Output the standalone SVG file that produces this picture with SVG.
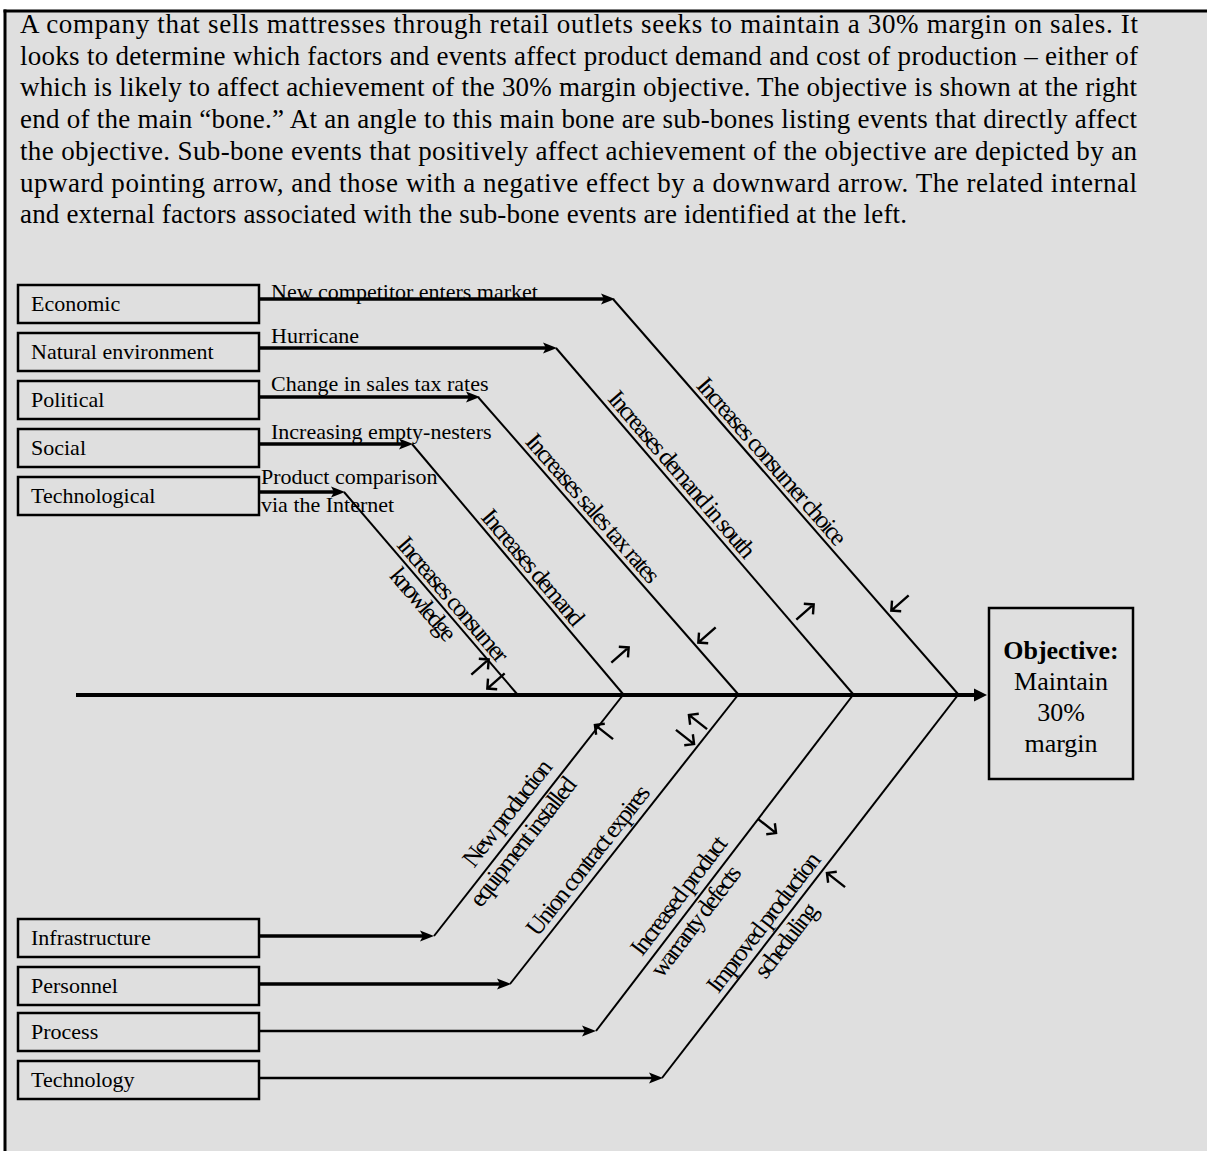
<svg xmlns="http://www.w3.org/2000/svg" xmlns:xlink="http://www.w3.org/1999/xlink" width="1207" height="1151" viewBox="0 0 1207 1151">
  <style>
    .t { font-family: "Liberation Serif", "Times New Roman", Times, serif; fill: #000; }
    .para { font-size: 27px; }
    .lbl { font-size: 22px; }
    .diag { font-size: 25px; }
    .obj { font-size: 26px; }
    .box { fill: none; stroke: #000; stroke-width: 2.5; }
    .bone { fill: none; stroke: #000; stroke-width: 2; }
    .feed { fill: none; stroke: #000; stroke-width: 3.5; marker-end: url(#ah); }
    .feed-thin { fill: none; stroke: #000; stroke-width: 2.6; marker-end: url(#ah); }
    .sym { fill: none; stroke: #000; stroke-width: 2.4; }
  </style>
  <defs>
    <marker id="ah" markerUnits="userSpaceOnUse" markerWidth="16" markerHeight="14" refX="6" refY="7" orient="auto">
      <path d="M0,1.5 L14,7 L0,12.5 L3,7 z" fill="#000"/>
    </marker>
    <marker id="ahMain" markerUnits="userSpaceOnUse" markerWidth="16" markerHeight="16" refX="6" refY="8" orient="auto">
      <path d="M0,1.5 L13,8 L0,14.5 z" fill="#000"/>
    </marker>
    <!-- upright open arrow, rotated per use -->
    <path id="arr" class="sym" d="M0,11.5 V-11.5 M-7,-4.5 L0,-11.5 L7,-4.5"/>
  </defs>

  <!-- page -->
  <rect x="0" y="0" width="1207" height="1151" fill="#fff"/>
  <rect x="5" y="11" width="1202" height="1140" fill="#dfdfdf"/>
  <line x1="3.5" y1="11" x2="1207" y2="11" stroke="#000" stroke-width="3"/>
  <line x1="5" y1="9.5" x2="5" y2="1151" stroke="#000" stroke-width="3"/>

  <!-- description paragraph -->
  <g id="description">
    <text class="t para" x="20" y="33" textLength="1118" lengthAdjust="spacing">A company that sells mattresses through retail outlets seeks to maintain a 30% margin on sales.  It</text>
    <text class="t para" x="20" y="64.7" textLength="1118" lengthAdjust="spacing">looks to determine which factors and events affect product demand and cost of production – either of</text>
    <text class="t para" x="20" y="96.4" textLength="1117" lengthAdjust="spacing">which is likely to affect achievement of the 30% margin objective.  The objective is shown at the right</text>
    <text class="t para" x="20" y="128.1" textLength="1117" lengthAdjust="spacing">end of the main “bone.”  At an angle to this main bone are sub-bones listing events that directly affect</text>
    <text class="t para" x="20" y="159.8" textLength="1117" lengthAdjust="spacing">the objective.  Sub-bone events that positively affect achievement of the objective are depicted by an</text>
    <text class="t para" x="20" y="191.5" textLength="1117" lengthAdjust="spacing">upward pointing arrow, and those with a negative effect by a downward arrow.  The related internal</text>
    <text class="t para" x="20" y="223.2" textLength="887" lengthAdjust="spacing">and external factors associated with the sub-bone events are identified at the left.</text>
  </g>

  <!-- factor boxes -->
  <g id="economic"><rect class="box" x="18" y="285" width="241" height="38"/><text class="t lbl" x="31" y="311">Economic</text></g>
  <g id="natural-environment"><rect class="box" x="18" y="333" width="241" height="38"/><text class="t lbl" x="31" y="359">Natural environment</text></g>
  <g id="political"><rect class="box" x="18" y="381" width="241" height="38"/><text class="t lbl" x="31" y="407">Political</text></g>
  <g id="social"><rect class="box" x="18" y="429" width="241" height="38"/><text class="t lbl" x="31" y="455">Social</text></g>
  <g id="technological"><rect class="box" x="18" y="477" width="241" height="38"/><text class="t lbl" x="31" y="503">Technological</text></g>

  <g id="infrastructure"><rect class="box" x="18" y="919" width="241" height="38"/><text class="t lbl" x="31" y="945">Infrastructure</text></g>
  <g id="personnel"><rect class="box" x="18" y="967" width="241" height="38"/><text class="t lbl" x="31" y="993">Personnel</text></g>
  <g id="process"><rect class="box" x="18" y="1013" width="241" height="38"/><text class="t lbl" x="31" y="1039">Process</text></g>
  <g id="technology"><rect class="box" x="18" y="1061" width="241" height="38"/><text class="t lbl" x="31" y="1087">Technology</text></g>

  <!-- objective -->
  <g id="objective">
    <rect class="box" x="989" y="608" width="144" height="171"/>
    <text class="t obj" x="1061" y="659" text-anchor="middle" font-weight="bold">Objective:</text>
    <text class="t obj" x="1061" y="690" text-anchor="middle">Maintain</text>
    <text class="t obj" x="1061" y="721" text-anchor="middle">30%</text>
    <text class="t obj" x="1061" y="752" text-anchor="middle">margin</text>
  </g>

  <!-- connectors: feeds, sub-bones and main bone -->
  <g id="connectors">
    <line x1="76" y1="695" x2="980" y2="695" stroke="#000" stroke-width="4" marker-end="url(#ahMain)"/>

    <line class="feed" x1="259" y1="299" x2="607" y2="299"/>
    <line class="feed" x1="259" y1="348" x2="549" y2="348"/>
    <line class="feed" x1="259" y1="397" x2="472" y2="397"/>
    <line class="feed" x1="259" y1="444" x2="405" y2="444"/>
    <line class="feed" x1="259" y1="492" x2="337" y2="492"/>

    <line class="bone" x1="613" y1="299" x2="958" y2="694"/>
    <line class="bone" x1="556" y1="348" x2="853" y2="694"/>
    <line class="bone" x1="478" y1="397" x2="738" y2="694"/>
    <line class="bone" x1="412" y1="444" x2="623" y2="694"/>
    <line class="bone" x1="344" y1="492" x2="517" y2="694"/>

    <line class="feed" x1="259" y1="936" x2="426" y2="936"/>
    <line class="feed" x1="259" y1="984" x2="503" y2="984"/>
    <line class="feed-thin" x1="259" y1="1031" x2="588" y2="1031"/>
    <line class="feed-thin" x1="259" y1="1078" x2="655" y2="1078"/>

    <line class="bone" x1="434" y1="936" x2="623" y2="695"/>
    <line class="bone" x1="510" y1="984" x2="738" y2="695"/>
    <line class="bone" x1="596" y1="1031" x2="853" y2="695"/>
    <line class="bone" x1="662" y1="1078" x2="958" y2="695"/>
  </g>

  <!-- event labels on the feeds -->
  <g id="event-labels">
    <text class="t lbl" x="271" y="299">New competitor enters market</text>
    <text class="t lbl" x="271" y="343">Hurricane</text>
    <text class="t lbl" x="271" y="391">Change in sales tax rates</text>
    <text class="t lbl" x="271" y="439">Increasing empty-nesters</text>
    <text class="t lbl" x="261" y="484">Product comparison</text>
    <text class="t lbl" x="261" y="512">via the Internet</text>
  </g>

  <!-- effect labels along the sub-bones -->
  <g id="effect-labels" text-anchor="middle">
    <text class="t diag" transform="translate(762,470) rotate(48.86)" y="-5" textLength="214" lengthAdjust="spacing">Increases consumer choice</text>
    <text class="t diag" transform="translate(672,483) rotate(49.36)" y="-5" textLength="212" lengthAdjust="spacing">Increases demand in south</text>
    <text class="t diag" transform="translate(583,517) rotate(48.8)" y="-5" textLength="190" lengthAdjust="spacing">Increases sales tax rates</text>
    <text class="t diag" transform="translate(523,576) rotate(49.8)" y="-5" textLength="145" lengthAdjust="spacing">Increases demand</text>
    <text class="t diag" transform="translate(443,608) rotate(49.4)" y="-5" textLength="157" lengthAdjust="spacing">Increases consumer</text>
    <text class="t diag" transform="translate(433,596) rotate(49.4)" y="21" textLength="88" lengthAdjust="spacing">knowledge</text>

    <text class="t diag" transform="translate(521.5,824.1) rotate(-52)" y="-10" textLength="129" lengthAdjust="spacing">New production</text>
    <text class="t diag" transform="translate(513.5,834.3) rotate(-52)" y="20" textLength="157" lengthAdjust="spacing">equipment installed</text>
    <text class="t diag" transform="translate(600,869.5) rotate(-51.8)" y="-7" textLength="184" lengthAdjust="spacing">Union contract expires</text>
    <text class="t diag" transform="translate(691.6,905.2) rotate(-52.8)" y="-8" textLength="143" lengthAdjust="spacing">Increased product</text>
    <text class="t diag" transform="translate(685.5,913.2) rotate(-52.8)" y="21" textLength="133" lengthAdjust="spacing">warranty defects</text>
    <text class="t diag" transform="translate(775.5,931.4) rotate(-52.45)" y="-7" textLength="170" lengthAdjust="spacing">Improved production</text>
    <text class="t diag" transform="translate(775.1,931.8) rotate(-52.45)" y="22" textLength="88" lengthAdjust="spacing">scheduling</text>
  </g>

  <!-- effect direction arrows -->
  <g id="effect-arrows">
    <use xlink:href="#arr" transform="translate(900,603) rotate(229)"/>
    <use xlink:href="#arr" transform="translate(805,612) rotate(49)"/>
    <use xlink:href="#arr" transform="translate(707,635) rotate(229)"/>
    <use xlink:href="#arr" transform="translate(620,655) rotate(49)"/>
    <use xlink:href="#arr" transform="translate(480,667) rotate(49)"/>
    <use xlink:href="#arr" transform="translate(496,681) rotate(229)"/>

    <use xlink:href="#arr" transform="translate(604,732) rotate(-52)"/>
    <use xlink:href="#arr" transform="translate(685,737) rotate(128)"/>
    <use xlink:href="#arr" transform="translate(698,722) rotate(-52)"/>
    <use xlink:href="#arr" transform="translate(767,826) rotate(128)"/>
    <use xlink:href="#arr" transform="translate(836,880) rotate(-52)"/>
  </g>
</svg>
